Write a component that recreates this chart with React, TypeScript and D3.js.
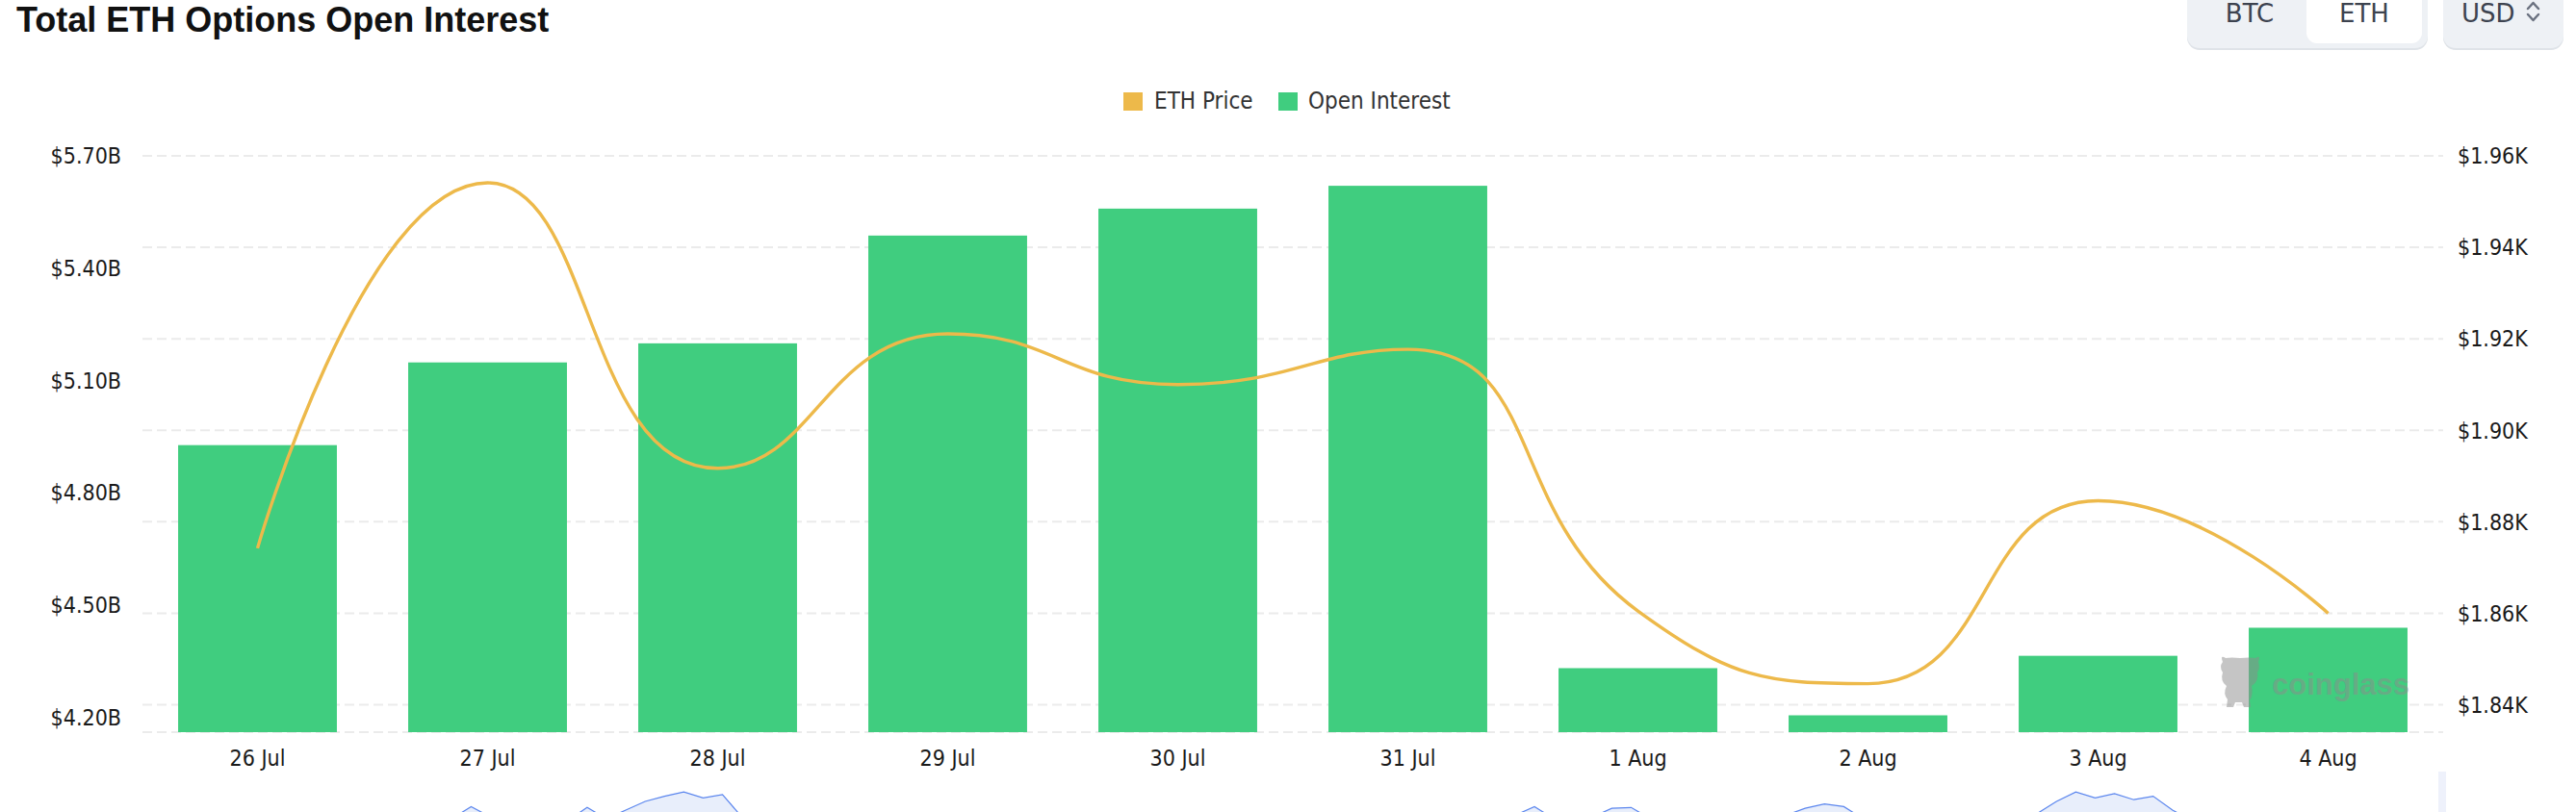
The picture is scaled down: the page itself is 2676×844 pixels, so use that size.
import * as d3 from "d3";
import React from "react";

// chart data
const dates = ["26 Jul", "27 Jul", "28 Jul", "29 Jul", "30 Jul", "31 Jul", "1 Aug", "2 Aug", "3 Aug", "4 Aug"];
const openInterest = [4.927, 5.148, 5.199, 5.487, 5.559, 5.62, 4.331, 4.205, 4.364, 4.439]; // $B
const ethPrice = [1874.2, 1954.1, 1891.7, 1921.1, 1910.0, 1917.7, 1860.5, 1844.6, 1884.6, 1860.0]; // $
const oiTicks = [4.2, 4.5, 4.8, 5.1, 5.4, 5.7];
const priceTicks = [1840, 1860, 1880, 1900, 1920, 1940, 1960];
const oiAxis = [4.16, 5.7];
const priceAxis = [1834, 1960];
const currencies = ["BTC", "ETH"];

// dataZoom shadow (only the tops show at the bottom edge)
const shadowValues = [
  45, 48, 50, 47, 52, 55, 50, 46, 44, 48, 51, 53, 49, 47, 50, 54, 60, 74, 62, 55,
  50, 52, 58, 73, 60, 70, 80, 86, 91, 84, 88, 62, 55, 50, 47, 45, 49, 52, 48, 44,
  42, 46, 50, 53, 51, 47, 45, 48, 52, 55, 50, 47, 44, 46, 49, 52, 55, 53, 50, 48,
  46, 44, 47, 50, 53, 56, 58, 55, 52, 56, 60, 64, 74, 60, 55, 62, 72, 73, 60, 55,
  52, 50, 54, 57, 60, 64, 72, 77, 74, 60, 55, 52, 50, 48, 51, 54, 58, 62, 66, 80,
  91, 84, 89, 82, 86, 70, 58, 54, 50, 47, 45, 48, 50, 52, 49, 47, 45, 44, 46, 48,
];

const W = 2676;
const H = 844;
const plot = { left: 148, right: 2538, top: 162, bottom: 761 };

const GREEN = "#40cd7f";
const GOLD = "#edb94a";
const axisFont = "'DejaVu Sans Condensed', 'DejaVu Sans', sans-serif";

// echarts-like smoothing (smooth: true => 0.5, no overshoot between neighbours)
function smoothLine(pts: [number, number][], smooth = 0.5) {
  const p = d3.path();
  let cpx0 = 0;
  let cpy0 = 0;
  pts.forEach(([x, y], i) => {
    if (i === 0) {
      p.moveTo(x, y);
      cpx0 = x;
      cpy0 = y;
      return;
    }
    const [px, py] = pts[i - 1];
    const next = pts[i + 1];
    let cpx1 = x;
    let cpy1 = y;
    let ncx = x;
    let ncy = y;
    if (next) {
      const [nx, ny] = next;
      let vx = nx - px;
      let vy = ny - py;
      const lenPrev = Math.hypot(x - px, y - py);
      const lenNext = Math.hypot(nx - x, ny - y);
      const ratio = lenNext / (lenNext + lenPrev);
      ncx = x + vx * smooth * ratio;
      ncy = y + vy * smooth * ratio;
      ncx = Math.max(Math.min(ncx, Math.max(nx, x)), Math.min(nx, x));
      ncy = Math.max(Math.min(ncy, Math.max(ny, y)), Math.min(ny, y));
      vx = ncx - x;
      vy = ncy - y;
      cpx1 = x - (vx * lenPrev) / lenNext;
      cpy1 = y - (vy * lenPrev) / lenNext;
      cpx1 = Math.max(Math.min(cpx1, Math.max(px, x)), Math.min(px, x));
      cpy1 = Math.max(Math.min(cpy1, Math.max(py, y)), Math.min(py, y));
      vx = x - cpx1;
      vy = y - cpy1;
      ncx = x + (vx * lenNext) / lenPrev;
      ncy = y + (vy * lenNext) / lenPrev;
    }
    p.bezierCurveTo(cpx0, cpy0, cpx1, cpy1, x, y);
    cpx0 = ncx;
    cpy0 = ncy;
  });
  return p.toString();
}

const App: React.FC = () => {
  const x = d3.scaleBand<string>().domain(dates).range([plot.left, plot.right]).paddingInner(0.31).paddingOuter(0.155);
  const yOI = d3.scaleLinear().domain(oiAxis).range([plot.bottom, plot.top]);
  const yPrice = d3.scaleLinear().domain(priceAxis).range([plot.bottom, plot.top]);

  const cx = (d: string) => (x(d) ?? 0) + x.bandwidth() / 2;
  const pricePts = dates.map((d, i) => [cx(d), yPrice(ethPrice[i])] as [number, number]);

  const sx = d3.scaleLinear().domain([0, shadowValues.length - 1]).range([plot.left, plot.right]);
  const sy = d3.scaleLinear().domain([0, 100]).range([905, 815]);
  const shadowArea = d3
    .area<number>()
    .x((_, i) => sx(i))
    .y0(905)
    .y1((v) => sy(v))(shadowValues);
  const shadowLine = d3
    .line<number>()
    .x((_, i) => sx(i))
    .y((v) => sy(v))(shadowValues);

  return (
    <svg width={W} height={H} style={{ position: "absolute", left: 0, top: 0, background: "#fff" }}>
      {/* title */}
      <text x={17} y={33} fontFamily="'Liberation Sans', Arial, sans-serif" fontWeight="bold" fontSize={36} fill="#111">
        Total ETH Options Open Interest
      </text>

      {/* currency toggle */}
      <rect x={2272} y={-14} width={250} height={66} rx={13} fill="#dfe3e8" />
      <rect x={2272} y={-14} width={250} height={64} rx={13} fill="#eef1f5" />
      <rect x={2396} y={-12} width={120} height={57} rx={11} fill="#fff" />
      {currencies.map((c, i) => (
        <text key={c} x={i === 0 ? 2337 : 2456} y={23} textAnchor="middle" fontFamily="'DejaVu Sans', sans-serif" fontSize={26} fill="#3d434f">
          {c}
        </text>
      ))}
      <rect x={2538} y={-14} width={125} height={66} rx={13} fill="#dfe3e8" />
      <rect x={2538} y={-14} width={125} height={64} rx={13} fill="#eef1f5" />
      <text x={2557} y={23} fontFamily="'DejaVu Sans', sans-serif" fontSize={26} fill="#3d434f">
        USD
      </text>
      <path d="M2626,9 L2631.5,3 L2637,9 M2626,15 L2631.5,21 L2637,15" fill="none" stroke="#6b7280" strokeWidth={2.5} strokeLinecap="round" strokeLinejoin="round" />

      {/* legend */}
      <rect x={1167} y={96} width={20} height={19} fill={GOLD} />
      <text x={1199} y={113} fontFamily={axisFont} fontSize={24} fill="#333">
        ETH Price
      </text>
      <rect x={1328} y={96} width={20} height={19} fill={GREEN} />
      <text x={1359} y={113} fontFamily={axisFont} fontSize={24} fill="#333">
        Open Interest
      </text>

      {/* grid (price axis) */}
      {priceTicks.map((t) => (
        <line key={t} x1={plot.left} x2={plot.right} y1={yPrice(t)} y2={yPrice(t)} stroke="#ebebeb" strokeWidth={2} strokeDasharray="10,5" />
      ))}
      <line x1={plot.left} x2={plot.right} y1={plot.bottom} y2={plot.bottom} stroke="#ebebeb" strokeWidth={2} strokeDasharray="10,5" />

      {/* bars */}
      {dates.map((d, i) => (
        <rect key={d} x={x(d)} y={yOI(openInterest[i])} width={x.bandwidth()} height={plot.bottom - yOI(openInterest[i])} fill={GREEN} />
      ))}

      {/* watermark */}
      <g fill="#8c8c8c" fillOpacity={0.5}>
        <path d="M2309,688 Q2306,680 2312,684 Q2318,683 2327,684 Q2337,683 2343,684 Q2349,680 2346,688 Q2348,694 2345,699 Q2347,708 2339,713 Q2341,722 2337,728 L2338,735 L2331,735 L2329,730 L2322,730 L2320,735 L2313,735 L2314,727 Q2309,721 2313,713 Q2306,708 2309,699 Q2305,693 2309,688 Z" />
        <text x={2360} y={722} fontFamily="'Liberation Sans', Arial, sans-serif" fontWeight="bold" fontSize={31}>
          coinglass
        </text>
      </g>

      {/* price line */}
      <path d={smoothLine(pricePts)} fill="none" stroke={GOLD} strokeWidth={3.4} strokeLinejoin="round" />

      {/* left axis labels */}
      {oiTicks.map((t) => (
        <text key={t} x={126} y={yOI(t)} dy="0.36em" textAnchor="end" fontFamily={axisFont} fontSize={23} fill="#1a1a1a">
          {`$${t.toFixed(2)}B`}
        </text>
      ))}
      {/* right axis labels */}
      {priceTicks.map((t) => (
        <text key={t} x={2553} y={yPrice(t)} dy="0.36em" fontFamily={axisFont} fontSize={23} fill="#1a1a1a">
          {`$${(t / 1000).toFixed(2)}K`}
        </text>
      ))}
      {/* x labels */}
      {dates.map((d) => (
        <text key={d} x={cx(d)} y={796} textAnchor="middle" fontFamily={axisFont} fontSize={23} fill="#1a1a1a">
          {d}
        </text>
      ))}

      {/* dataZoom shadow, cut by the bottom edge */}
      <path d={shadowArea ?? ""} fill="#e8eefb" />
      <path d={shadowLine ?? ""} fill="none" stroke="#5b86ee" strokeWidth={1.2} />
      <rect x={2533} y={802} width={8} height={42} fill="#eef1fb" />
    </svg>
  );
};

export default App;
